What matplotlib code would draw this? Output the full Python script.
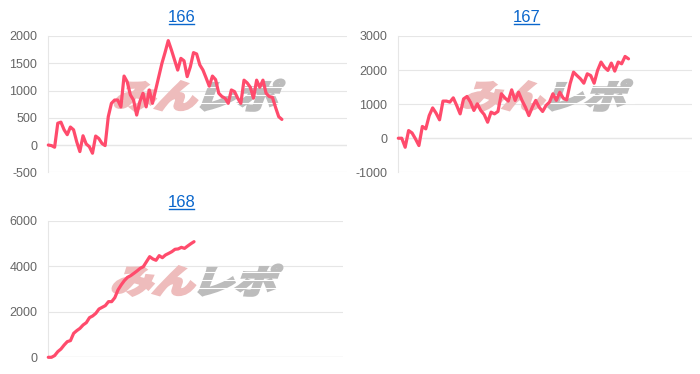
import numpy as np
import matplotlib
matplotlib.use("Agg")
import matplotlib.pyplot as plt
from matplotlib.textpath import TextPath
from matplotlib.patches import PathPatch
from matplotlib.font_manager import FontProperties
from matplotlib.transforms import Affine2D, IdentityTransform
from matplotlib.lines import Line2D

# ---------------- data ----------------
titles = ["166", "167", "168"]

values_166 = [0, -10, -40, 400, 420, 280, 190, 330, 280, 60,
              -120, 170, 20, -30, -150, 165, 120, 30, -10, 520,
              765, 825, 825, 700, 1265, 1160, 920, 825, 550, 795,
              950, 700, 1010, 765, 1010, 1255, 1500, 1700, 1915, 1745,
              1560, 1375, 1590, 1545, 1255, 1435, 1695, 1670, 1470, 1375,
              1230, 1080, 1265, 1200, 950, 890, 860, 765, 1010, 980,
              860, 765, 1190, 1140, 1060, 860, 1190, 1060, 1190, 950,
              890, 875, 690, 520, 470]

values_167 = [0, 0, -265, 225, 155, -20, -215, 345, 275, 665,
              890, 735, 540, 1090, 1090, 1060, 1185, 960, 715, 1155,
              1225, 1060, 815, 1010, 815, 695, 470, 765, 715, 785,
              1305, 1185, 1090, 1420, 1110, 1350, 1110, 910, 665, 910,
              1110, 910, 785, 960, 1060, 1305, 1110, 1350, 1175, 1125,
              1600, 1940, 1840, 1745, 1615, 1890, 1840, 1615, 1990, 2235,
              2085, 1990, 2205, 1970, 2235, 2185, 2400, 2330]

values_168 = [0, 0, 75, 250, 365, 540, 690, 735, 1055, 1175,
              1275, 1425, 1525, 1745, 1820, 1935, 2125, 2200, 2275, 2450,
              2450, 2625, 2965, 3185, 3375, 3520, 3595, 3695, 3800, 3915,
              3990, 4210, 4430, 4330, 4270, 4475, 4385, 4505, 4575, 4650,
              4755, 4770, 4840, 4795, 4900, 5000, 5090]

yticks_166 = [-500, 0, 500, 1000, 1500, 2000]
yticks_167 = [-1000, 0, 1000, 2000, 3000]
yticks_168 = [0, 2000, 4000, 6000]

# ---------------- layout / style ----------------
W, H = 700, 374
LINE_COLOR = "#ff4b6c"
GRID_COLOR = "#e6e6e6"
ZERO_COLOR = "#b9b9b9"
TICK_COLOR = "#666666"
TITLE_COLOR = "#0a66cc"

panels = [
    dict(box=(48.3, 36.0, 347.0, 172.3), frac=0.782, title_xy=(182, 17)),
    dict(box=(398.3, 36.0, 692.3, 172.3), frac=0.783, title_xy=(527, 17)),
    dict(box=(48.3, 221.0, 342.7, 357.3), frac=0.495, title_xy=(182, 202)),
]
series = [values_166, values_167, values_168]
ticks = [yticks_166, yticks_167, yticks_168]

plt.rcParams["font.family"] = ["Liberation Sans", "DejaVu Sans"]
plt.rcParams["axes.unicode_minus"] = False
fig = plt.figure(figsize=(W / 100, H / 100), dpi=100)
fig.patch.set_facecolor("white")

jp = FontProperties(family=["Noto Sans CJK JP"], weight="black")


def add_watermark(ax, cx, cy):
    size = 42
    p1 = TextPath((0, 0), "みん", size=size, prop=jp)
    p2 = TextPath((0, 0), "レポ", size=size, prop=jp)
    shape = Affine2D().skew_deg(16, 0).scale(1.0, 0.78)
    p1 = shape.transform_path(p1)
    p2 = shape.transform_path(p2)
    e1 = p1.get_extents()
    e2 = p2.get_extents()
    gap = 4
    total = e1.width + gap + e2.width
    x0 = cx - total / 2
    hh = max(e1.height, e2.height)
    y0 = H - cy - hh / 2
    t1 = Affine2D().translate(x0 - e1.x0, y0 - e1.y0)
    t2 = Affine2D().translate(x0 + e1.width + gap - e2.x0, y0 - e2.y0)
    q1 = t1.transform_path(p1)
    q2 = t2.transform_path(p2)
    ax.add_artist(PathPatch(q1, facecolor="#eebcbc", edgecolor="#eebcbc", lw=1.8,
                            transform=IdentityTransform(), zorder=1.6))
    ax.add_artist(PathPatch(q2, facecolor="#bcbcbc", edgecolor="#bcbcbc", lw=1.8,
                            transform=IdentityTransform(), zorder=1.6))
    bb = q2.get_extents()
    for k in range(1, 4):
        yy = bb.y0 + bb.height * k / 4.0
        ax.add_artist(Line2D([bb.x0 - 2, bb.x1 + 2], [yy, yy], color="white",
                             lw=0.8, transform=IdentityTransform(), zorder=1.65))


title_texts = []
for p, vals, yt, title in zip(panels, series, ticks, titles):
    l, t, r, b = p["box"]
    ax = fig.add_axes([l / W, 1 - b / H, (r - l) / W, (b - t) / H])
    ax.set_facecolor("none")
    x = np.arange(len(vals))
    ax.plot(x, vals, color=LINE_COLOR, lw=2.3, solid_joinstyle="round",
            solid_capstyle="round", zorder=3, clip_on=False)
    ax.set_xlim(0, (len(vals) - 1) / p["frac"])
    ax.set_ylim(yt[0], yt[-1])
    ax.set_yticks(yt)
    ax.set_xticks([])
    ax.yaxis.grid(True, color=GRID_COLOR, lw=0.8, zorder=1)
    for s in ["top", "right", "bottom"]:
        ax.spines[s].set_visible(False)
    ax.spines["left"].set_color(GRID_COLOR)
    ax.spines["left"].set_linewidth(0.8)
    ax.axhline(0, color=ZERO_COLOR, lw=0.8, zorder=1.2)
    ax.tick_params(axis="y", length=0, pad=8, labelcolor=TICK_COLOR, labelsize=9)
    add_watermark(ax, (l + r) / 2 + 2, (t + b) / 2 - 9)
    tx, ty = p["title_xy"]
    txt = fig.text(tx / W, 1 - ty / H, title, ha="center", va="center",
                   fontsize=12, color=TITLE_COLOR)
    title_texts.append(txt)

fig.canvas.draw()
r = fig.canvas.get_renderer()
for txt in title_texts:
    bb = txt.get_window_extent(renderer=r)
    yy = bb.y0 + 0.5
    fig.add_artist(Line2D([bb.x0 + 0.5, bb.x1 - 1.5], [yy, yy], color=TITLE_COLOR,
                          lw=1.0, transform=IdentityTransform()))

fig.savefig("out.png", dpi=100, facecolor="white")
